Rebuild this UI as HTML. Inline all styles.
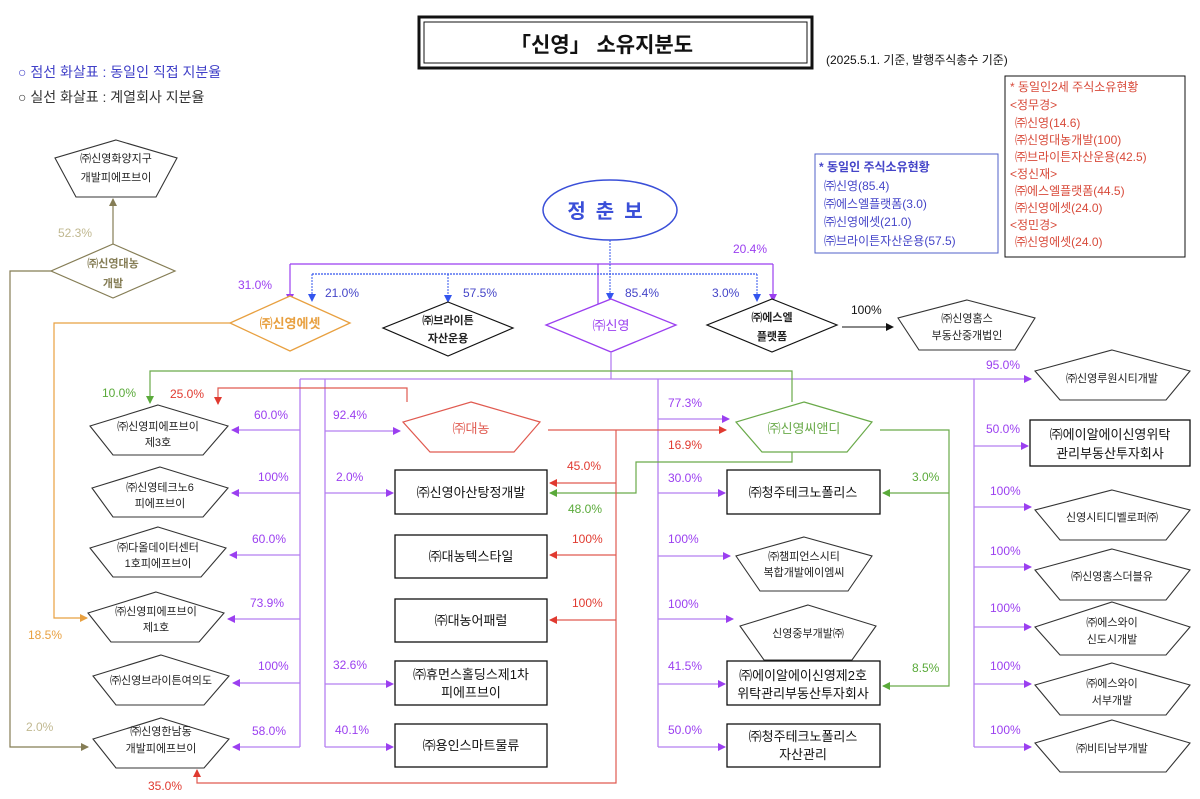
<!DOCTYPE html>
<html><head><meta charset="utf-8"><style>
html,body{margin:0;padding:0;background:#fff;}
svg{display:block;font-family:"Liberation Sans","Noto Sans CJK KR",sans-serif;}
.n{font-size:11px;fill:#222;text-anchor:middle;}
.p{font-size:12px;}
</style></head><body>
<svg width="1200" height="799" viewBox="0 0 1200 799" xmlns="http://www.w3.org/2000/svg">
<defs>
<marker id="mp" markerWidth="8" markerHeight="8" refX="7" refY="4" orient="auto" markerUnits="userSpaceOnUse"><path d="M0,0 L8,4 L0,8z" fill="#9b3ff0"/></marker>
<marker id="mr" markerWidth="8" markerHeight="8" refX="7" refY="4" orient="auto" markerUnits="userSpaceOnUse"><path d="M0,0 L8,4 L0,8z" fill="#e03a30"/></marker>
<marker id="mg" markerWidth="8" markerHeight="8" refX="7" refY="4" orient="auto" markerUnits="userSpaceOnUse"><path d="M0,0 L8,4 L0,8z" fill="#5aaa3a"/></marker>
<marker id="mo" markerWidth="8" markerHeight="8" refX="7" refY="4" orient="auto" markerUnits="userSpaceOnUse"><path d="M0,0 L8,4 L0,8z" fill="#e8a040"/></marker>
<marker id="mv" markerWidth="8" markerHeight="8" refX="7" refY="4" orient="auto" markerUnits="userSpaceOnUse"><path d="M0,0 L8,4 L0,8z" fill="#857d55"/></marker>
<marker id="mb" markerWidth="8" markerHeight="8" refX="7" refY="4" orient="auto" markerUnits="userSpaceOnUse"><path d="M0,0 L8,4 L0,8z" fill="#3355ee"/></marker>
<marker id="mk" markerWidth="8" markerHeight="8" refX="7" refY="4" orient="auto" markerUnits="userSpaceOnUse"><path d="M0,0 L8,4 L0,8z" fill="#111"/></marker>
</defs>

<rect x="419" y="17" width="393" height="51" fill="none" stroke="#111" stroke-width="3"/>
<rect x="424" y="22" width="383" height="41" fill="none" stroke="#111" stroke-width="1"/>
<text x="510" y="52" font-size="21" font-weight="bold" fill="#111">「신영」  소유지분도</text>
<text x="826" y="64" font-size="12" fill="#111">(2025.5.1. 기준, 발행주식총수 기준)</text>
<text x="18" y="77" font-size="14" fill="#4040c8">○ 점선 화살표 : 동일인 직접 지분율</text>
<text x="18" y="102" font-size="14" fill="#333">○ 실선 화살표 : 계열회사 지분율</text>

<rect x="1005" y="76" width="180" height="181" fill="none" stroke="#111" stroke-width="1"/>
<g font-size="12" fill="#d84a3a">
<text x="1010" y="91">* 동일인2세 주식소유현황</text>
<text x="1010" y="109">&lt;정무경&gt;</text>
<text x="1015" y="127">㈜신영(14.6)</text>
<text x="1015" y="144">㈜신영대농개발(100)</text>
<text x="1015" y="161">㈜브라이튼자산운용(42.5)</text>
<text x="1010" y="178">&lt;정신재&gt;</text>
<text x="1015" y="195">㈜에스엘플랫폼(44.5)</text>
<text x="1015" y="212">㈜신영에셋(24.0)</text>
<text x="1010" y="229">&lt;정민경&gt;</text>
<text x="1015" y="246">㈜신영에셋(24.0)</text>
</g>
<rect x="815" y="154" width="183" height="99" fill="none" stroke="#5060c8" stroke-width="1"/>
<g font-size="12" fill="#4545c8">
<text x="819" y="171" font-weight="bold">* 동일인 주식소유현황</text>
<text x="824" y="190">㈜신영(85.4)</text>
<text x="824" y="208">㈜에스엘플랫폼(3.0)</text>
<text x="824" y="226">㈜신영에셋(21.0)</text>
<text x="824" y="245">㈜브라이튼자산운용(57.5)</text>
</g>

<ellipse cx="610" cy="210" rx="67" ry="30" fill="none" stroke="#3a4fd8" stroke-width="1.5"/>
<text x="610" y="218" font-size="20" font-weight="bold" fill="#3a4fd8" text-anchor="middle" letter-spacing="10">정춘보</text>

<polyline points="290,264 773,264" fill="none" stroke="#9b3ff0" stroke-width="1.2"/>
<line x1="290" y1="264" x2="290" y2="301" stroke="#9b3ff0" stroke-width="1.2" marker-end="url(#mp)"/>
<line x1="773" y1="264" x2="773" y2="301" stroke="#9b3ff0" stroke-width="1.2" marker-end="url(#mp)"/>
<line x1="598" y1="264" x2="598" y2="322" stroke="#9b3ff0" stroke-width="1.2"/>
<line x1="312" y1="274" x2="757" y2="274" stroke="#3355ee" stroke-width="1.2" stroke-dasharray="2,1"/>
<line x1="312" y1="274" x2="312" y2="301" stroke="#3355ee" stroke-dasharray="2,1" marker-end="url(#mb)"/>
<line x1="448" y1="274" x2="448" y2="302" stroke="#3355ee" stroke-dasharray="2,1" marker-end="url(#mb)"/>
<line x1="610" y1="240" x2="610" y2="300" stroke="#3355ee" stroke-dasharray="2,1" marker-end="url(#mb)"/>
<line x1="757" y1="274" x2="757" y2="301" stroke="#3355ee" stroke-dasharray="2,1" marker-end="url(#mb)"/>
<g class="p">
<text x="238" y="289" fill="#9b3ff0">31.0%</text>
<text x="325" y="297" fill="#4545c8">21.0%</text>
<text x="463" y="297" fill="#4545c8">57.5%</text>
<text x="625" y="297" fill="#4545c8">85.4%</text>
<text x="712" y="297" fill="#4545c8">3.0%</text>
<text x="733" y="253" fill="#9b3ff0">20.4%</text>
</g>

<polygon points="290,296 350,323 290,351 230,323" fill="#fff" stroke="#e8a040" stroke-width="1.3"/>
<text x="290" y="328" font-size="13" font-weight="bold" fill="#e8a040" text-anchor="middle">㈜신영에셋</text>
<polygon points="448,302 513,328 448,356 383,328" fill="#fff" stroke="#111" stroke-width="1.2"/>
<text class="n" x="448" y="324" font-weight="bold">㈜브라이튼</text>
<text class="n" x="448" y="342" font-weight="bold">자산운용</text>
<polygon points="611,299 676,325 611,352 546,325" fill="#fff" stroke="#9b3ff0" stroke-width="1.3"/>
<text x="611" y="330" font-size="13" fill="#9b3ff0" text-anchor="middle">㈜신영</text>
<polygon points="772,299 837,325 772,352 707,325" fill="#fff" stroke="#111" stroke-width="1.2"/>
<text class="n" x="772" y="321" font-weight="bold">㈜에스엘</text>
<text class="n" x="772" y="340" font-weight="bold">플랫폼</text>
<polygon points="113,244 175,271 113,298 51,271" fill="#fff" stroke="#857d55" stroke-width="1.2"/>
<text x="113" y="267" font-size="11" fill="#857d55" text-anchor="middle" font-weight="bold">㈜신영대농</text>
<text x="113" y="287" font-size="11" fill="#857d55" text-anchor="middle" font-weight="bold">개발</text>

<line x1="842" y1="327" x2="893" y2="327" stroke="#111" marker-end="url(#mk)"/>
<text x="851" y="314" class="p" fill="#111">100%</text>

<line x1="113" y1="244" x2="113" y2="199" stroke="#857d55" stroke-width="1.2" marker-end="url(#mv)"/>
<text x="58" y="237" class="p" fill="#c0b890">52.3%</text>
<polyline points="51,271 10,271 10,747 88,747" fill="none" stroke="#857d55" stroke-width="1.2" marker-end="url(#mv)"/>
<text x="26" y="731" class="p" fill="#c0b890">2.0%</text>
<polyline points="230,323 54,323 54,618 87,618" fill="none" stroke="#e8a040" stroke-width="1.2" marker-end="url(#mo)"/>
<text x="28" y="639" class="p" fill="#e8a040">18.5%</text>

<g fill="#fff" stroke="#333" stroke-width="1.1">
<polygon points="116,140 177,158 156,197 76,197 55,158"/>
<polygon points="967,300 1035,318 1015,350 919,350 898,318"/>
<polygon points="158,405 228,426 203,455 113,455 90,426"/>
<polygon points="160,467 228,488 203,517 113,517 92,488"/>
<polygon points="158,527 226,548 201,577 113,577 90,548"/>
<polygon points="156,592 224,613 199,642 111,642 88,613"/>
<polygon points="161,655 229,676 204,705 116,705 93,676"/>
<polygon points="161,718 229,739 204,768 116,768 93,739"/>
</g>
<polygon points="471,402 540,422 514,452 430,452 403,422" fill="#fff" stroke="#e05a50" stroke-width="1.2"/>
<text x="471" y="433" font-size="13" fill="#e05a50" text-anchor="middle">㈜대농</text>
<polygon points="804,402 872,422 847,452 762,452 736,422" fill="#fff" stroke="#6aaa4a" stroke-width="1.2"/>
<text x="804" y="433" font-size="13" fill="#6aaa4a" text-anchor="middle">㈜신영씨앤디</text>
<g fill="#fff" stroke="#333" stroke-width="1.1">
<polygon points="804,537 872,556 848,591 760,591 736,556"/>
<polygon points="808,605 876,626 852,660 764,660 740,626"/>
<polygon points="1112,350 1190,371 1166,400 1060,400 1035,371"/>
<polygon points="1112,490 1190,510 1166,540 1060,540 1035,510"/>
<polygon points="1112,549 1190,570 1166,600 1060,600 1035,570"/>
<polygon points="1112,602 1190,627 1166,655 1060,655 1035,627"/>
<polygon points="1112,663 1190,685 1166,715 1060,715 1035,685"/>
<polygon points="1112,720 1190,743 1166,772 1060,772 1035,743"/>
</g>
<g class="n" font-size="10">
<text x="116" y="162">㈜신영화양지구</text><text x="116" y="181">개발피에프브이</text>
<text x="967" y="322">㈜신영홈스</text><text x="967" y="339">부동산중개법인</text>
<text x="158" y="430">㈜신영피에프브이</text><text x="158" y="446">제3호</text>
<text x="160" y="491">㈜신영테크노6</text><text x="160" y="507">피에프브이</text>
<text x="158" y="551">㈜다올데이터센터</text><text x="158" y="567">1호피에프브이</text>
<text x="156" y="615">㈜신영피에프브이</text><text x="156" y="631">제1호</text>
<text x="161" y="684">㈜신영브라이튼여의도</text>
<text x="161" y="735">㈜신영한남동</text><text x="161" y="752">개발피에프브이</text>
<text x="804" y="560">㈜챔피언스시티</text><text x="804" y="576">복합개발에이엠씨</text>
<text x="808" y="637">신영중부개발㈜</text>
<text x="1112" y="382">㈜신영루원시티개발</text>
<text x="1112" y="521">신영시티디벨로퍼㈜</text>
<text x="1112" y="580">㈜신영홈스더블유</text>
<text x="1112" y="626">㈜에스와이</text><text x="1112" y="643">신도시개발</text>
<text x="1112" y="687">㈜에스와이</text><text x="1112" y="704">서부개발</text>
<text x="1112" y="752">㈜비티남부개발</text>
</g>

<g fill="#fff" stroke="#111" stroke-width="1.3">
<rect x="395" y="470" width="152" height="44"/>
<rect x="395" y="535" width="152" height="43"/>
<rect x="395" y="599" width="152" height="43"/>
<rect x="395" y="661" width="152" height="44"/>
<rect x="395" y="724" width="152" height="43"/>
<rect x="727" y="470" width="153" height="44"/>
<rect x="727" y="661" width="153" height="44"/>
<rect x="727" y="724" width="153" height="43"/>
<rect x="1030" y="420" width="160" height="46"/>
</g>
<g font-size="13" fill="#111" text-anchor="middle">
<text x="471" y="497">㈜신영아산탕정개발</text>
<text x="471" y="561">㈜대농텍스타일</text>
<text x="471" y="625">㈜대농어패럴</text>
<text x="471" y="679">㈜휴먼스홀딩스제1차</text><text x="471" y="697">피에프브이</text>
<text x="471" y="750">㈜용인스마트물류</text>
<text x="803" y="497">㈜청주테크노폴리스</text>
<text x="803" y="680">㈜에이알에이신영제2호</text><text x="803" y="698">위탁관리부동산투자회사</text>
<text x="803" y="741">㈜청주테크노폴리스</text><text x="803" y="759">자산관리</text>
<text x="1110" y="439">㈜에이알에이신영위탁</text><text x="1110" y="458">관리부동산투자회사</text>
</g>

<g stroke="#b57ff0" stroke-width="1.3" fill="none">
<line x1="611" y1="352" x2="611" y2="379"/>
<line x1="300" y1="379" x2="1031" y2="379" marker-end="url(#mp)"/>
<line x1="300" y1="379" x2="300" y2="747"/>
<line x1="325" y1="379" x2="325" y2="747"/>
<line x1="658" y1="379" x2="658" y2="747"/>
<line x1="974" y1="379" x2="974" y2="747"/>
<line x1="300" y1="430" x2="232" y2="430" marker-end="url(#mp)"/>
<line x1="300" y1="493" x2="232" y2="493" marker-end="url(#mp)"/>
<line x1="300" y1="555" x2="230" y2="555" marker-end="url(#mp)"/>
<line x1="300" y1="619" x2="228" y2="619" marker-end="url(#mp)"/>
<line x1="300" y1="683" x2="233" y2="683" marker-end="url(#mp)"/>
<line x1="300" y1="747" x2="233" y2="747" marker-end="url(#mp)"/>
<line x1="325" y1="431" x2="400" y2="431" marker-end="url(#mp)"/>
<line x1="325" y1="493" x2="393" y2="493" marker-end="url(#mp)"/>
<line x1="325" y1="684" x2="393" y2="684" marker-end="url(#mp)"/>
<line x1="325" y1="747" x2="393" y2="747" marker-end="url(#mp)"/>
<line x1="658" y1="419" x2="729" y2="419" marker-end="url(#mp)"/>
<line x1="658" y1="493" x2="725" y2="493" marker-end="url(#mp)"/>
<line x1="658" y1="556" x2="730" y2="556" marker-end="url(#mp)"/>
<line x1="658" y1="619" x2="733" y2="619" marker-end="url(#mp)"/>
<line x1="658" y1="684" x2="725" y2="684" marker-end="url(#mp)"/>
<line x1="658" y1="747" x2="725" y2="747" marker-end="url(#mp)"/>
<line x1="974" y1="446" x2="1028" y2="446" marker-end="url(#mp)"/>
<line x1="974" y1="507" x2="1031" y2="507" marker-end="url(#mp)"/>
<line x1="974" y1="567" x2="1031" y2="567" marker-end="url(#mp)"/>
<line x1="974" y1="627" x2="1031" y2="627" marker-end="url(#mp)"/>
<line x1="974" y1="684" x2="1031" y2="684" marker-end="url(#mp)"/>
<line x1="974" y1="747" x2="1031" y2="747" marker-end="url(#mp)"/>
</g>
<g class="p" fill="#9b3ff0">
<text x="254" y="419">60.0%</text><text x="258" y="481">100%</text><text x="252" y="543">60.0%</text>
<text x="250" y="607">73.9%</text><text x="258" y="670">100%</text><text x="252" y="735">58.0%</text>
<text x="333" y="419">92.4%</text><text x="336" y="481">2.0%</text><text x="333" y="669">32.6%</text><text x="335" y="734">40.1%</text>
<text x="668" y="407">77.3%</text><text x="668" y="482">30.0%</text><text x="668" y="543">100%</text>
<text x="668" y="608">100%</text><text x="668" y="670">41.5%</text><text x="668" y="734">50.0%</text>
<text x="986" y="369">95.0%</text><text x="986" y="433">50.0%</text><text x="990" y="495">100%</text>
<text x="990" y="555">100%</text><text x="990" y="612">100%</text><text x="990" y="670">100%</text><text x="990" y="734">100%</text>
</g>

<g stroke="#6aaa4a" stroke-width="1.2" fill="none">
<polyline points="792,402 792,371 150,371 150,403" marker-end="url(#mg)"/>
<polyline points="792,452 792,462 636,462 636,493 550,493" marker-end="url(#mg)"/>
<polyline points="880,430 949,430 949,686 883,686" marker-end="url(#mg)"/>
<line x1="949" y1="493" x2="883" y2="493" marker-end="url(#mg)"/>
</g>
<g class="p" fill="#5aaa3a">
<text x="102" y="397">10.0%</text><text x="568" y="513">48.0%</text>
<text x="912" y="481">3.0%</text><text x="912" y="672">8.5%</text>
</g>

<g stroke="#e05a50" stroke-width="1.2" fill="none">
<line x1="548" y1="430" x2="726" y2="430" marker-end="url(#mr)"/>
<polyline points="407,402 407,388 218,388 218,404" marker-end="url(#mr)"/>
<polyline points="616,430 616,783 197,783 197,770" marker-end="url(#mr)"/>
<line x1="616" y1="483" x2="550" y2="483" marker-end="url(#mr)"/>
<line x1="616" y1="555" x2="550" y2="555" marker-end="url(#mr)"/>
<line x1="616" y1="620" x2="550" y2="620" marker-end="url(#mr)"/>
</g>
<g class="p" fill="#e03a30">
<text x="170" y="398">25.0%</text><text x="668" y="449">16.9%</text>
<text x="567" y="470">45.0%</text><text x="572" y="543">100%</text><text x="572" y="607">100%</text>
<text x="148" y="790">35.0%</text>
</g>
</svg>
</body></html>
